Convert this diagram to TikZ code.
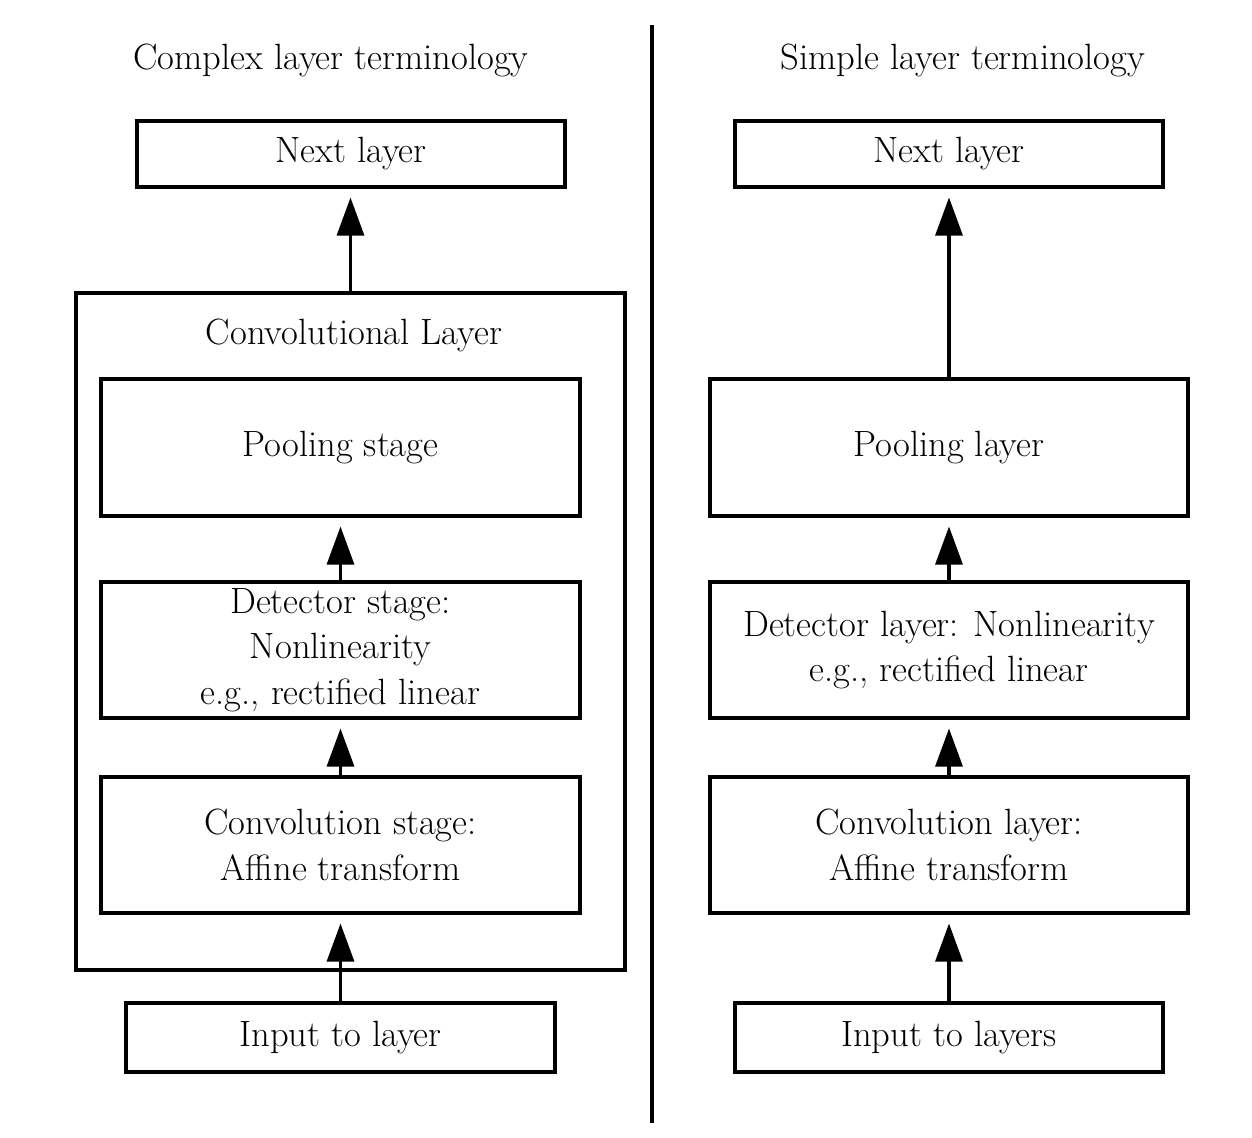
\documentclass[tikz,border=0pt]{standalone}
\usetikzlibrary{arrows.meta}
\begin{document}
\begin{tikzpicture}[x=0.02cm,y=-0.02cm,
  every node/.style={font=\fontsize{20.8}{26}\selectfont},
  blk/.style n args={2}{draw,line width=2.1pt,inner sep=0pt,outer sep=0pt,align=center,minimum width=#1*0.02cm,minimum height=#2*0.02cm},
  conn/.style={line width=1.8pt,-{Triangle[width=0.54cm,length=0.76cm]},shorten >=6pt},
  ttl/.style={inner sep=0pt}]
\useasboundingbox (0,0) rectangle (1252,1138);
% divider
\coordinate (dtop) at (652,25);
\coordinate (dbot) at (652,1123);
\draw[line width=1.8pt] (dtop) -- (dbot);
% left
\node[ttl] (ltitle) at (331,60) {Complex layer terminology};
\node[blk={428}{66}] (lnext) at (351,154) {Next layer};
\node[blk={549}{677}] (lout) at (350.5,631.5) {};
\node[ttl] (llabel) at (354,335) {Convolutional Layer};
\node[blk={479}{137}] (lpool) at (340.5,447.5) {Pooling stage};
\node[blk={479}{136}] (ldet) at (340.5,650) {Detector stage:\\Nonlinearity\\e.g., rectified linear};
\node[blk={479}{136}] (lconv) at (340.5,845) {Convolution stage:\\Affine transform};
\node[blk={429}{69}] (lin) at (340.5,1037.5) {Input to layer};
\draw[conn] (lout.north) -- (lout.north |- lnext.south);
\draw[conn] (ldet.north) -- (lpool.south);
\draw[conn] (lconv.north) -- (ldet.south);
\draw[conn] (lin.north) -- (lconv.south);
% right
\node[ttl] (rtitle) at (963,60) {Simple layer terminology};
\node[blk={428}{66}] (rnext) at (949,154) {Next layer};
\node[blk={478}{137}] (rpool) at (949,447.5) {Pooling layer};
\node[blk={478}{136}] (rdet) at (949,650) {Detector layer: Nonlinearity\\e.g., rectified linear};
\node[blk={478}{136}] (rconv) at (949,845) {Convolution layer:\\Affine transform};
\node[blk={428}{69}] (rin) at (949,1037.5) {Input to layers};
\draw[conn] (rpool.north) -- (rnext.south);
\draw[conn] (rdet.north) -- (rpool.south);
\draw[conn] (rconv.north) -- (rdet.south);
\draw[conn] (rin.north) -- (rconv.south);
\end{tikzpicture}
\end{document}
